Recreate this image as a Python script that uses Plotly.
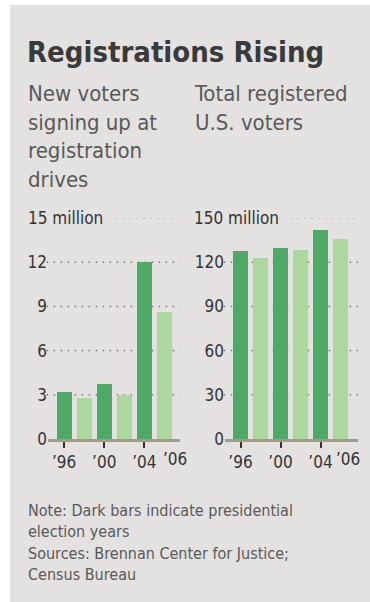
import plotly.graph_objects as go

W, H = 370, 602

years = [1996, 1998, 2000, 2002, 2004, 2006]
new_voters = [3.2, 2.8, 3.7, 3.0, 12.0, 8.6]          # millions
registered = [127.7, 123.1, 129.5, 128.2, 142.1, 135.9]  # millions
presidential = [True, False, True, False, True, False]

left_ticks = [0, 3, 6, 9, 12]
right_ticks = [0, 30, 60, 90, 120]
xtick_years = [1996, 2000, 2004]
xtick_labels = ["\u201996", "\u201900", "\u201904"]
last_label = "\u201906"

title = "Registrations Rising"
sub_left = "New voters<br>signing up at<br>registration<br>drives"
sub_right = "Total registered<br>U.S. voters"
note = "Note: Dark bars indicate presidential<br>election years"
sources = "Sources: Brennan Center for Justice;<br>Census Bureau"

DARK = "#4ea866"
LIGHT = "#acd8a0"
BG = "#e3e2e0"
TXT = "#333333"
SUBTXT = "#595959"
GRID = "#857565"
GRID_LIGHT = "#a9a29b"
FONT = "DejaVu Sans Condensed, Liberation Sans Narrow, DejaVu Sans, sans-serif"
DOT = "1.5px,5.5px"

colors = [DARK if p else LIGHT for p in presidential]

def px_x(x):
    return x / W

def px_y(y):
    return 1 - y / H

y_bottom = px_y(439)
y_top = px_y(218)

fig = go.Figure()
fig.add_trace(go.Bar(x=years, y=new_voters, marker=dict(color=colors, line_width=0),
                     width=1.5, xaxis="x", yaxis="y", hoverinfo="skip"))
fig.add_trace(go.Bar(x=years, y=registered, marker=dict(color=colors, line_width=0),
                     width=1.5, xaxis="x2", yaxis="y2", hoverinfo="skip"))

shapes = []
# gray panel
shapes.append(dict(type="rect", xref="paper", yref="paper", x0=px_x(10), x1=1.01, y0=-0.01, y1=px_y(5),
                   fillcolor=BG, line_width=0, layer="below"))
# gridlines
for v in left_ticks[1:]:
    shapes.append(dict(type="line", xref="x domain", yref="y", x0=-0.01, x1=1, y0=v, y1=v,
                       line=dict(color=GRID, width=1.5, dash=DOT), layer="below"))
shapes.append(dict(type="line", xref="x domain", yref="y", x0=0.51, x1=0.96, y0=15, y1=15,
                   line=dict(color=GRID_LIGHT, width=1.5, dash=DOT), layer="below"))
for v in right_ticks[1:]:
    shapes.append(dict(type="line", xref="x2 domain", yref="y2", x0=-0.01, x1=1, y0=v, y1=v,
                       line=dict(color=GRID, width=1.5, dash=DOT), layer="below"))
shapes.append(dict(type="line", xref="x2 domain", yref="y2", x0=0.49, x1=0.98, y0=150, y1=150,
                   line=dict(color=GRID_LIGHT, width=1.5, dash=DOT), layer="below"))

annotations = []
def txt(text, x, y, size, color=TXT, bold=False, xanchor="left", yanchor="top", xref="paper", yref="paper"):
    annotations.append(dict(text=(f"<b>{text}</b>" if bold else text), x=x, y=y, xref=xref, yref=yref,
                            xanchor=xanchor, yanchor=yanchor, showarrow=False, align="left",
                            font=dict(family=FONT, size=size, color=color)))

txt(title, px_x(25), px_y(33), 29, color="#3a3a3a", bold=True)
txt(sub_left, px_x(26), px_y(79), 22, color=SUBTXT)
txt(sub_right, px_x(192), px_y(79), 22, color=SUBTXT)
txt("15 million", px_x(26), 15, 17, yanchor="middle", yref="y")
txt("150 million", px_x(192), 150, 17, yanchor="middle", yref="y2")
txt(last_label, 2007.05, px_y(447), 17, xanchor="center", xref="x")
txt(last_label, 2006.75, px_y(447), 17, xanchor="center", xref="x2")
txt(note, px_x(26), px_y(499), 16, color=SUBTXT)
txt(sources, px_x(26), px_y(542), 16, color=SUBTXT)

axis_common = dict(showgrid=False, zeroline=False, fixedrange=True, automargin=False)
xcommon = dict(axis_common, tickvals=xtick_years, ticktext=xtick_labels, ticks="outside", ticklen=6,
               tickwidth=1.5, tickcolor="#333", showline=True, linecolor="#a89888", linewidth=2.5,
               tickfont=dict(family=FONT, size=17, color=TXT))
ycommon = dict(axis_common, showline=False, ticks="", tickfont=dict(family=FONT, size=17, color=TXT),
               domain=[y_bottom, y_top])

fig.update_layout(
    width=W, height=H, margin=dict(l=0, r=0, t=0, b=0, pad=0, autoexpand=False),
    paper_bgcolor="white", plot_bgcolor="rgba(0,0,0,0)", showlegend=False,
    xaxis=dict(xcommon, domain=[px_x(48), px_x(180)], range=[1994.4, 2007.55], anchor="y"),
    yaxis=dict(ycommon, range=[0, 15], tickvals=left_ticks, anchor="x"),
    xaxis2=dict(xcommon, domain=[px_x(225), px_x(358)], range=[1994.45, 2007.75], anchor="y2"),
    yaxis2=dict(ycommon, range=[0, 150], tickvals=right_ticks, anchor="x2"),
    shapes=shapes, annotations=annotations, bargap=0,
)

fig.write_html("out.html")
